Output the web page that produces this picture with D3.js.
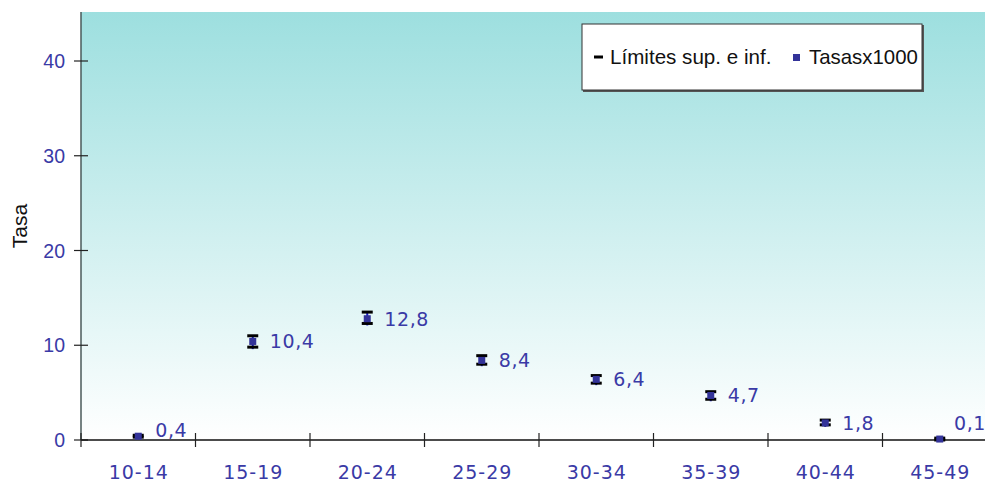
<!DOCTYPE html>
<html><head><meta charset="utf-8">
<script src="https://cdn.jsdelivr.net/npm/d3@7"></script>
<style>body{margin:0;background:#fff}svg{display:block}</style>
</head><body>
<svg id="c" width="985" height="483"></svg>
<script>
const categories = ["10-14","15-19","20-24","25-29","30-34","35-39","40-44","45-49"];
const rates = [0.4,10.4,12.8,8.4,6.4,4.7,1.8,0.1];
const upper = [0.5,11.0,13.5,8.9,6.8,5.1,2.1,0.2];
const lower = [0.3,9.8,12.3,8.0,6.0,4.3,1.6,0.0];
const rateLabels = ["0,4","10,4","12,8","8,4","6,4","4,7","1,8","0,1"];
const yTicks = [0,10,20,30,40];

const svg = d3.select("#c");
const L = 81, B = 440, T = 12, R = 985;
const x = d3.scaleBand().domain(categories).range([L, L + 8*114.5]);
const y = d3.scaleLinear().domain([0,45]).range([B, B - 45*9.475]);

const defs = svg.append("defs");
const g = defs.append("linearGradient").attr("id","bg").attr("x1",0).attr("y1",0).attr("x2",0).attr("y2",1);
g.append("stop").attr("offset","0%").attr("stop-color","#9ddfdf");
g.append("stop").attr("offset","100%").attr("stop-color","#ffffff");
svg.append("rect").attr("x",L).attr("y",T).attr("width",R-L).attr("height",B-T).attr("fill","url(#bg)");

// y axis
svg.append("line").attr("x1",L).attr("x2",L).attr("y1",T).attr("y2",B).attr("stroke","#4a5a5a").attr("stroke-width",1.5);
const yt = svg.append("g");
yt.selectAll("line").data(yTicks).join("line")
  .attr("x1",L-7).attr("x2",L+7).attr("y1",d=>y(d)).attr("y2",d=>y(d)).attr("stroke","#222").attr("stroke-width",1.2);
yt.selectAll("text").data(yTicks).join("text")
  .attr("x",65).attr("y",d=>y(d)+7).attr("text-anchor","end")
  .attr("font-family","Liberation Sans, Arial, sans-serif").attr("font-size",19.5).attr("fill","#3a3aa6").text(d=>d);

svg.append("text").attr("transform","translate(27,226) rotate(-90)").attr("text-anchor","middle")
  .attr("font-family","Liberation Sans, Arial, sans-serif").attr("font-size",21).attr("fill","#111").text("Tasa");

// x axis
svg.append("line").attr("x1",L).attr("x2",R).attr("y1",B).attr("y2",B).attr("stroke","#111").attr("stroke-width",1.5);
const bounds = categories.map(c=>x(c)).concat([x(categories[categories.length-1])+x.bandwidth()]);
svg.append("g").selectAll("line").data(bounds).join("line")
  .attr("x1",d=>d).attr("x2",d=>d).attr("y1",B-7).attr("y2",B+7).attr("stroke","#222").attr("stroke-width",1.2);
svg.append("g").selectAll("text").data(categories).join("text")
  .attr("x",d=>x(d)+x.bandwidth()/2+0.5).attr("y",479).attr("text-anchor","middle")
  .attr("font-family","DejaVu Sans, Verdana, sans-serif").attr("font-size",19).attr("letter-spacing",1)
  .attr("fill","#3a3aa6").text(d=>d);

// error bars + points
const pts = svg.append("g");
categories.forEach((c,i)=>{
  const cx = x(c)+x.bandwidth()/2;
  pts.append("line").attr("x1",cx).attr("x2",cx).attr("y1",y(upper[i])).attr("y2",y(lower[i])+2)
    .attr("stroke","#1a1ad0").attr("stroke-width",2);
  [upper[i],lower[i]].forEach(v=>{
    pts.append("line").attr("x1",cx-5.5).attr("x2",cx+5.5).attr("y1",y(v)).attr("y2",y(v))
      .attr("stroke","#000").attr("stroke-width",3);
  });
  pts.append("rect").attr("x",cx-3.5).attr("y",y(rates[i])-3.5).attr("width",7).attr("height",7).attr("fill","#333399");
  const t = pts.append("text").attr("x",cx+17).attr("y",Math.min(y(rates[i]), B-10)).attr("dy","0.36em")
    .attr("font-family","DejaVu Sans, Verdana, sans-serif").attr("font-size",19).attr("letter-spacing",0.6)
    .attr("fill","#3a3aa6").text(rateLabels[i]);
  const w = t.node().getComputedTextLength();
  if (cx + 17 + w > R) {
    t.attr("x", R - w + 1).attr("y", B - 17);
  }
});

// legend
const lg = svg.append("g");
lg.append("rect").attr("x",583).attr("y",25).attr("width",341).attr("height",67).attr("fill","#555");
lg.append("rect").attr("x",582).attr("y",24).attr("width",340).attr("height",66).attr("fill","#fff").attr("stroke","#333").attr("stroke-width",1);
lg.append("line").attr("x1",594).attr("x2",603).attr("y1",57).attr("y2",57).attr("stroke","#000").attr("stroke-width",3);
lg.append("text").attr("x",610).attr("y",64).attr("font-family","Liberation Sans, Arial, sans-serif").attr("font-size",20.6).attr("fill","#111").text("Límites sup. e inf.");
lg.append("rect").attr("x",793).attr("y",54).attr("width",7).attr("height",7).attr("fill","#333399");
lg.append("text").attr("x",809).attr("y",64).attr("font-family","Liberation Sans, Arial, sans-serif").attr("font-size",20.4).attr("fill","#111").text("Tasasx1000");
</script>
</body></html>
